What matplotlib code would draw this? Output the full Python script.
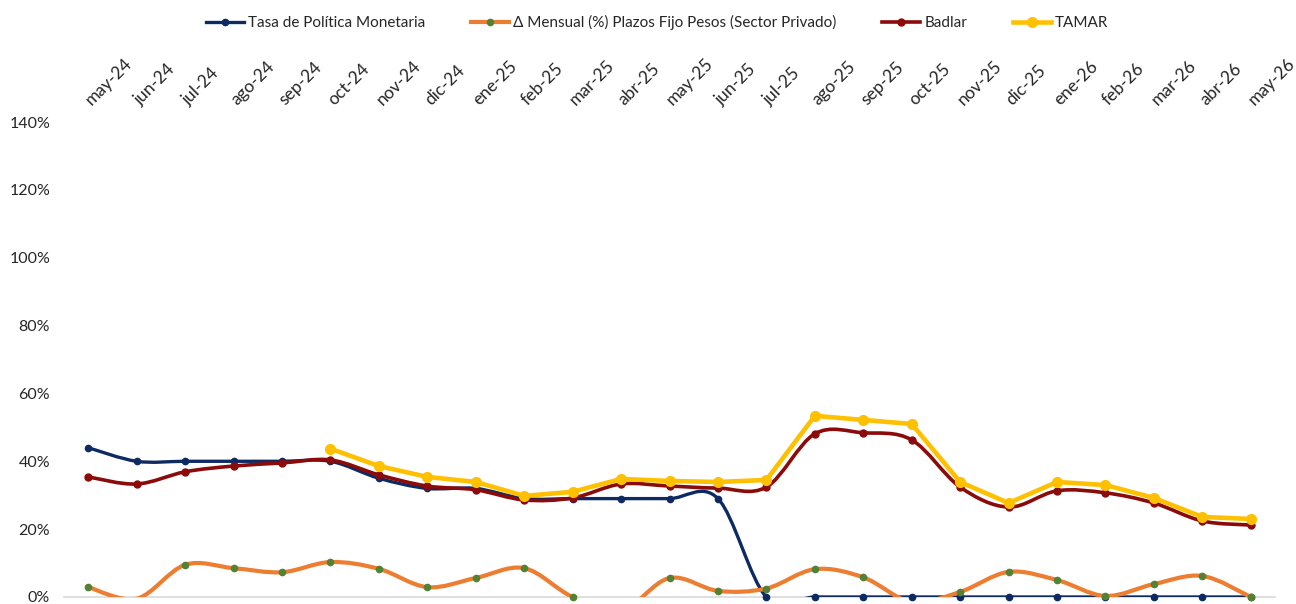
import numpy as np
import matplotlib
matplotlib.use("Agg")
import matplotlib.pyplot as plt
from matplotlib.path import Path
from matplotlib.patches import PathPatch
from matplotlib.lines import Line2D

plt.rcParams["font.family"] = ["Lato", "DejaVu Sans"]

months = ["may-24", "jun-24", "jul-24", "ago-24", "sep-24", "oct-24", "nov-24", "dic-24",
          "ene-25", "feb-25", "mar-25", "abr-25", "may-25", "jun-25", "jul-25", "ago-25",
          "sep-25", "oct-25", "nov-25", "dic-25", "ene-26", "feb-26", "mar-26", "abr-26", "may-26"]

tpm = [44.0, 40.0, 40.0, 40.0, 40.0, 40.0, 35.0, 32.0, 32.0, 29.0, 29.0, 29.0, 29.0, 29.0,
       0, 0, 0, 0, 0, 0, 0, 0, 0, 0, 0]
pf_mensual = [2.9, -0.5, 9.5, 8.5, 7.3, 10.3, 8.3, 2.9, 5.6, 8.5, 0.0, -4.0, 5.6, 1.8,
              2.5, 8.2, 5.8, -1.5, 1.5, 7.4, 5.0, 0.3, 3.8, 6.2, 0.0]
badlar = [35.4, 33.3, 36.9, 38.6, 39.5, 40.4, 36.0, 32.7, 31.6, 28.6, 29.2, 33.3, 32.7, 32.1,
          32.4, 48.1, 48.4, 46.3, 32.4, 26.5, 31.3, 30.7, 27.7, 22.4, 21.2]
tamar = [np.nan] * 5 + [43.7, 38.6, 35.4, 33.9, 29.8, 31.0, 34.8, 34.2, 33.9, 34.5, 53.4,
                        52.2, 51.0, 33.9, 27.7, 33.9, 33.0, 29.2, 23.6, 23.0]

C_TPM = "#0D2A63"
C_PF = "#ED7D31"
C_PF_MK = "#548235"
C_BADLAR = "#8B0A0A"
C_TAMAR = "#FFC000"


def smooth_path(x, y):
    # bezier segments like excel's smoothed line
    pts = np.column_stack([x, y])
    n = len(pts)
    verts = [pts[0]]
    codes = [Path.MOVETO]
    for i in range(n - 1):
        p0 = pts[max(i - 1, 0)]
        p1 = pts[i]
        p2 = pts[i + 1]
        p3 = pts[min(i + 2, n - 1)]
        c1 = p1 + (p2 - p0) / 6.0
        c2 = p2 - (p3 - p1) / 6.0
        verts += [c1, c2, p2]
        codes += [Path.CURVE4] * 3
    return Path(verts, codes)


fig = plt.figure(figsize=(12.96, 6.04), dpi=100)
ax = fig.add_axes([0.0494, 0.0116, 0.9344, 0.7864])
x = np.arange(len(months))

series = [
    ("Tasa de Política Monetaria", tpm, C_TPM, C_TPM, 2.4, 4.5, True),
    ("Δ Mensual (%) Plazos Fijo Pesos (Sector Privado)", pf_mensual, C_PF, C_PF_MK, 3.0, 4.5, True),
    ("Badlar", badlar, C_BADLAR, C_BADLAR, 2.6, 5.0, True),
    ("TAMAR", tamar, C_TAMAR, C_TAMAR, 3.3, 7.0, False),
]

handles = []
for z, (name, vals, col, mcol, lw, ms, smooth) in enumerate(series):
    vals = np.asarray(vals, dtype=float)
    ok = ~np.isnan(vals)
    xs, ys = x[ok], vals[ok]
    if smooth:
        patch = PathPatch(smooth_path(xs, ys), facecolor="none", edgecolor=col,
                          lw=lw, zorder=3 + z, capstyle="round", joinstyle="round")
        ax.add_patch(patch)
    else:
        ax.plot(xs, ys, color=col, lw=lw, zorder=3 + z, solid_joinstyle="round")
    vis = ys >= 0
    ax.plot(xs[vis], ys[vis], ls="none", marker="o", ms=ms, color=mcol,
            zorder=3 + z, clip_on=False)
    handles.append(Line2D([], [], color=col, lw=lw, marker="o", ms=ms, mfc=mcol, mec=mcol,
                          label=name))

ax.set_xlim(-0.5, len(months) - 0.5)
ax.set_ylim(0, 140)
ax.set_yticks(np.arange(0, 141, 20))
ax.set_yticklabels([f"{v}%" for v in range(0, 141, 20)])
ax.set_xticks(x)
ax.xaxis.tick_top()
ax.set_xticklabels(months, rotation=45, ha="left", va="center", rotation_mode="anchor")
ax.tick_params(axis="both", length=0, labelsize=11.5, colors="#262626")
ax.tick_params(axis="x", labelsize=12.5, pad=14)
ax.tick_params(axis="y", pad=10)

for s in ["top", "left", "right"]:
    ax.spines[s].set_visible(False)
ax.spines["bottom"].set_color("#D9D9D9")
ax.spines["bottom"].set_linewidth(1.2)

fig.legend(handles=handles, loc="center", bbox_to_anchor=(0.507, 0.962), ncol=4,
           frameon=False, fontsize=11, handlelength=2.5, handletextpad=0.25,
           columnspacing=3.0, labelcolor="#262626")

fig.savefig("out.png", dpi=100)
